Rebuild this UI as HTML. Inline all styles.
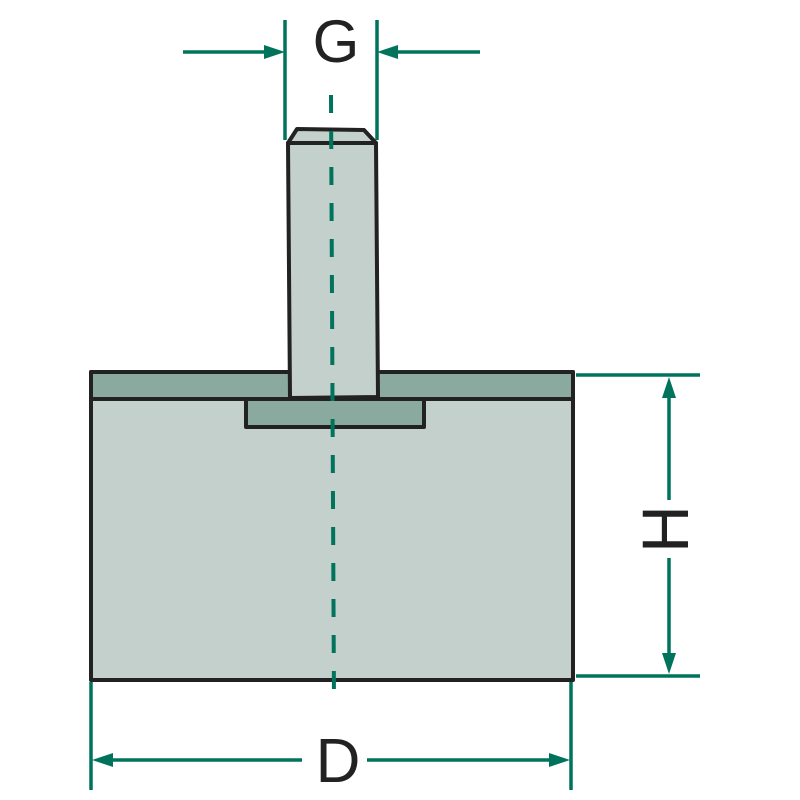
<!DOCTYPE html>
<html><head><style>body{margin:0;background:#fff}svg{display:block}</style></head>
<body>
<svg width="800" height="800" viewBox="0 0 800 800" xmlns="http://www.w3.org/2000/svg">
<g fill="none" stroke="#00735c" stroke-width="3.5">
<line x1="285" y1="20" x2="285" y2="140"/>
<line x1="377" y1="20" x2="377" y2="140"/>
<line x1="183" y1="52" x2="270" y2="52"/>
<line x1="392" y1="52" x2="480" y2="52"/>
<line x1="576" y1="375" x2="700" y2="375"/>
<line x1="576" y1="676" x2="700" y2="676"/>
<line x1="669" y1="390" x2="669" y2="500"/>
<line x1="669" y1="558" x2="669" y2="662"/>
<line x1="91" y1="682" x2="91" y2="790"/>
<line x1="571" y1="682" x2="571" y2="790"/>
<line x1="105" y1="760" x2="302" y2="760"/>
<line x1="367" y1="760" x2="557" y2="760"/>
</g>
<g fill="#00735c">
<polygon points="285,52 264,45 264,59"/>
<polygon points="377,52 398,45 398,59"/>
<polygon points="669,377 662,398 676,398"/>
<polygon points="669,674 662,653 676,653"/>
<polygon points="92,760 113,753 113,767"/>
<polygon points="570,760 549,753 549,767"/>
</g>
<g stroke="#222" stroke-width="4" stroke-linejoin="round">
<rect x="91" y="372" width="482" height="308" fill="#c3d0cc"/>
<rect x="91" y="372" width="482" height="27" fill="#8aa99f"/>
<rect x="246" y="399" width="178" height="28" fill="#8aa99f"/>
<polygon points="297,129 364,130 376,143 288,143" fill="#c3d0cc"/>
<polygon points="288,143 376,143 378,397 290,398" fill="#c3d0cc"/>
</g>
<line x1="331" y1="95" x2="334" y2="705" stroke="#00735c" stroke-width="4" stroke-dasharray="18,18"/>
<g font-family="Liberation Sans, sans-serif" fill="#222" text-anchor="middle">
<text x="336" y="62" font-size="60">G</text>
<text x="338" y="782" font-size="62">D</text>
<text x="0" y="0" font-size="66" transform="translate(688,529) rotate(-90)">H</text>
</g>
</svg>
</body></html>
